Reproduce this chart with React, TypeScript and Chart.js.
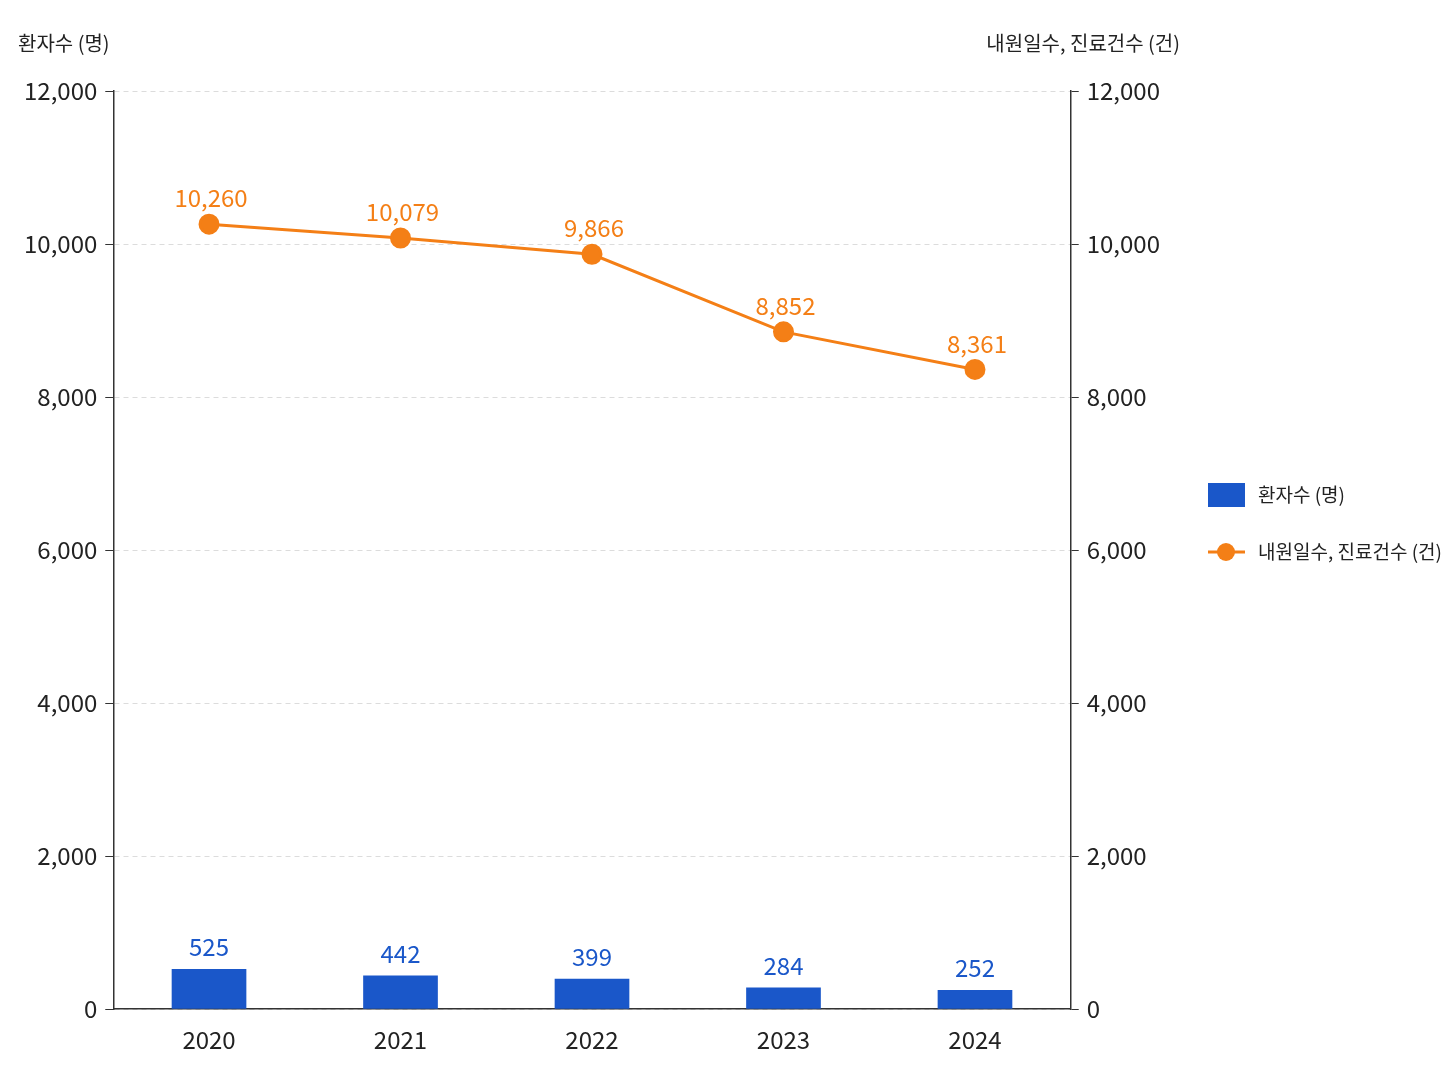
import React, { useEffect, useRef } from "react";
import { Chart, registerables } from "chart.js";
Chart.register(...registerables);

const years = ["2020", "2021", "2022", "2023", "2024"];
const patients = [525, 442, 399, 284, 252];
const visits = [10260, 10079, 9866, 8852, 8361];
const barLabel = "환자수 (명)";
const lineLabel = "내원일수, 진료건수 (건)";
const BLUE = "#1a57c9";
const ORANGE = "#f47f16";
const FONT = "'Noto Sans CJK KR', 'Noto Sans', sans-serif";

export default function App() {
  const ref = useRef<HTMLCanvasElement>(null);
  useEffect(() => {
    const fmt = (v: number) => v.toLocaleString("en-US");
    const overlay = {
      id: "overlay",
      afterDraw(chart: any) {
        const ctx = chart.ctx;
        ctx.save();
        ctx.font = `24px ${FONT}`;
        ctx.textAlign = "center";
        ctx.textBaseline = "bottom";
        const m0 = chart.getDatasetMeta(0);
        m0.data.forEach((el: any, i: number) => {
          ctx.fillStyle = BLUE;
          ctx.fillText(fmt(patients[i]), el.x, el.y - 10);
        });
        const m1 = chart.getDatasetMeta(1);
        m1.data.forEach((el: any, i: number) => {
          ctx.fillStyle = ORANGE;
          ctx.fillText(fmt(visits[i]), el.x + 2, el.y - 14);
        });
        ctx.fillStyle = "#222";
        ctx.font = `20px ${FONT}`;
        ctx.textBaseline = "middle";
        ctx.textAlign = "left";
        ctx.fillText(barLabel, 18, 43);
        ctx.textAlign = "right";
        ctx.fillText(lineLabel, 1180, 43);
        ctx.font = `19px ${FONT}`;
        ctx.textAlign = "left";
        ctx.fillStyle = BLUE;
        ctx.fillRect(1208, 483, 37, 24);
        ctx.fillStyle = "#222";
        ctx.fillText(barLabel, 1258, 495);
        ctx.strokeStyle = ORANGE;
        ctx.lineWidth = 3;
        ctx.beginPath();
        ctx.moveTo(1208, 552);
        ctx.lineTo(1245, 552);
        ctx.stroke();
        ctx.fillStyle = ORANGE;
        ctx.beginPath();
        ctx.arc(1226, 552, 9, 0, Math.PI * 2);
        ctx.fill();
        ctx.fillStyle = "#222";
        ctx.fillText(lineLabel, 1258, 552);
        ctx.restore();
      },
    };
    const tickFont = { size: 24, family: FONT };
    const chart = new Chart(ref.current!, {
      type: "bar",
      data: {
        labels: years,
        datasets: [
          {
            type: "bar",
            label: barLabel,
            data: patients,
            backgroundColor: BLUE,
            yAxisID: "y",
            barPercentage: 0.39,
            categoryPercentage: 1,
            order: 2,
          },
          {
            type: "line",
            label: lineLabel,
            data: visits,
            borderColor: ORANGE,
            backgroundColor: ORANGE,
            borderWidth: 3,
            pointRadius: 9,
            pointHoverRadius: 9,
            yAxisID: "y1",
            order: 1,
          } as any,
        ],
      },
      options: {
        animation: false,
        responsive: false,
        layout: { padding: { top: 91, right: 280, left: 16, bottom: 24 } },
        plugins: { legend: { display: false }, tooltip: { enabled: false } },
        scales: {
          x: {
            grid: { display: false },
            border: { color: "#333", width: 1.5 },
            ticks: { color: "#222", font: tickFont, padding: 8 },
          },
          y: {
            min: 0, max: 12000,
            ticks: { stepSize: 2000, color: "#222", font: tickFont, padding: 8, callback: (v: any) => fmt(v) },
            grid: { color: "#dcdcdc", drawTicks: true, tickLength: 8, tickColor: "#333" } as any,
            border: { color: "#333", width: 1.5, dash: [5, 4] } as any,
          },
          y1: {
            position: "right",
            min: 0, max: 12000,
            ticks: { stepSize: 2000, color: "#222", font: tickFont, padding: 8, callback: (v: any) => fmt(v) },
            grid: { drawOnChartArea: false, tickLength: 8, tickColor: "#333" },
            border: { color: "#333", width: 1.5 },
          },
        },
      },
      plugins: [overlay],
    });
    return () => chart.destroy();
  }, []);
  return (
    <div style={{ position: "absolute", left: 0, top: 0, background: "#fff" }}>
      <canvas ref={ref} width={1448} height={1086} style={{ width: 1448, height: 1086 }} />
    </div>
  );
}
